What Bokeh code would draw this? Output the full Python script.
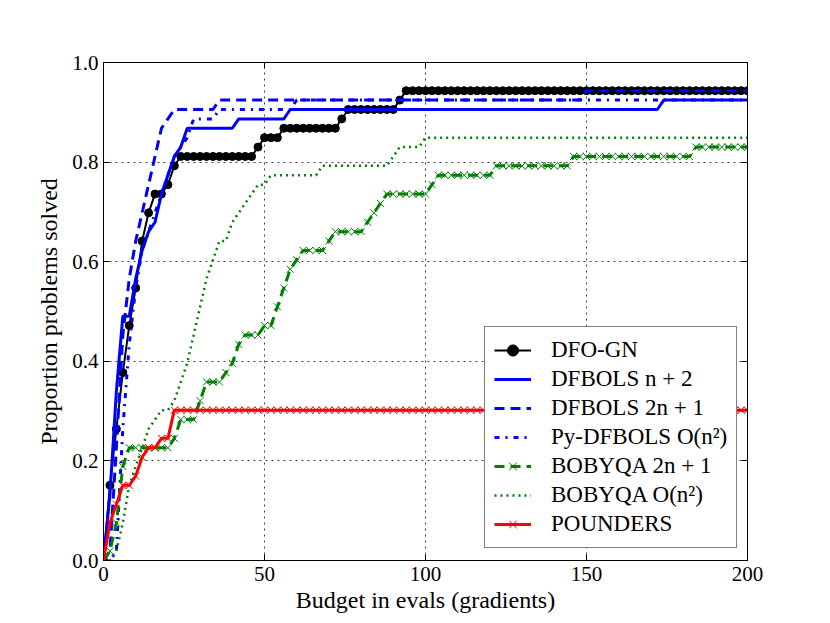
import numpy as np
from bokeh.plotting import figure
from bokeh.models import (LinearAxis, FixedTicker, Legend, LegendItem, Range1d,
                          NumeralTickFormatter, CustomJSTickFormatter)
from bokeh.embed import file_html
from bokeh.resources import INLINE

N_PROBLEMS = 53
budget = list(range(0, 201, 2))

# change points of each data profile: budget -> number of problems solved
dfogn_x = [0, 2, 4, 6, 8, 10, 12, 14, 16, 20, 22, 24, 48, 50, 56, 74, 76, 92, 94]
dfogn_n = [0, 8, 14, 20, 25, 29, 34, 37, 39, 40, 42, 43, 44, 45, 46, 47, 48, 49, 50]

np2_x = [0, 2, 4, 6, 10, 12, 14, 16, 18, 20, 22, 24, 26, 42, 58, 174]
np2_n = [0, 7, 18, 26, 30, 33, 35, 36, 39, 41, 43, 44, 46, 47, 48, 49]

tnp1_x = [0, 2, 4, 6, 8, 10, 12, 14, 16, 18, 20, 22, 36, 150]
tnp1_n = [0, 1, 12, 24, 30, 34, 37, 40, 43, 46, 47, 48, 49, 50]

py_x = [0, 4, 6, 8, 10, 12, 14, 16, 18, 20, 22, 24, 26, 28, 36, 60]
py_n = [0, 1, 14, 23, 29, 33, 35, 37, 39, 41, 43, 44, 45, 47, 48, 49]

bq2_x = [0, 2, 4, 6, 8, 22, 24, 30, 32, 38, 40, 42, 44, 50, 54, 56, 58, 60, 62,
         70, 72, 82, 84, 86, 88, 102, 104, 122, 146, 184]
bq2_n = [0, 1, 4, 10, 12, 13, 15, 17, 19, 20, 21, 23, 24, 25, 27, 29, 31, 32, 33,
         34, 35, 36, 37, 38, 39, 40, 41, 42, 43, 44]

bqo_x = [0, 4, 6, 8, 10, 12, 14, 16, 18, 22, 24, 26, 28, 30, 32, 34, 36, 40, 42,
         44, 46, 48, 52, 68, 90, 92, 100]
bqo_n = [0, 1, 4, 8, 10, 12, 14, 15, 16, 17, 19, 21, 24, 27, 30, 32, 34, 36, 37,
         38, 39, 40, 41, 42, 43, 44, 45]

pd_x = [0, 2, 4, 6, 10, 12, 14, 18, 22]
pd_n = [0, 4, 6, 8, 9, 11, 12, 13, 16]

labels = ["DFO-GN", "DFBOLS n + 2", "DFBOLS 2n + 1", "Py-DFBOLS O(n²)",
          "BOBYQA 2n + 1", "BOBYQA O(n²)", "POUNDERS"]


def profile(cx, cn):
    idx = np.searchsorted(np.array(cx), np.array(budget), side="right") - 1
    return [cn[i] / N_PROBLEMS for i in idx]


FONT = "Liberation Serif"
BLUE = "#0000ff"
GREEN = "#008000"
RED = "#ff0000"

p = figure(frame_width=644, frame_height=498,
           min_border_left=103, min_border_right=75,
           min_border_top=62, min_border_bottom=55,
           x_range=Range1d(0, 200), y_range=Range1d(0, 1),
           output_backend="svg", toolbar_location=None,
           background_fill_color="white", border_fill_color="white")

xt = [0, 50, 100, 150, 200]
yt = [0.0, 0.2, 0.4, 0.6, 0.8, 1.0]
p.xaxis.ticker = FixedTicker(ticks=xt)
p.yaxis.ticker = FixedTicker(ticks=yt)
p.yaxis.formatter = NumeralTickFormatter(format="0.0")
p.xgrid.ticker = FixedTicker(ticks=xt)
p.ygrid.ticker = FixedTicker(ticks=yt)
for g in (p.xgrid, p.ygrid):
    g.grid_line_color = "black"
    g.grid_line_dash = "2 4"
    g.grid_line_width = 1
    g.grid_line_alpha = 0.75

for ax in (p.xaxis, p.yaxis):
    ax.major_tick_in = 6
    ax.major_tick_out = 0
    ax.minor_tick_line_color = None
    ax.axis_line_color = "black"
    ax.major_tick_line_color = "black"
    ax.major_label_text_font = FONT
    ax.major_label_text_font_size = "21px"
    ax.major_label_text_color = "black"
    ax.axis_label_text_font = FONT
    ax.axis_label_text_font_size = "24px"
    ax.axis_label_text_font_style = "normal"
    ax.axis_label_text_color = "black"
p.xaxis.axis_label = "Budget in evals (gradients)"
p.yaxis.axis_label = "Proportion problems solved"
p.xaxis.major_label_standoff = 6
p.yaxis.major_label_standoff = 5
p.xaxis.axis_label_standoff = 3
p.yaxis.axis_label_standoff = 7

blank = CustomJSTickFormatter(code="return ''")
p.add_layout(LinearAxis(ticker=FixedTicker(ticks=yt), formatter=blank,
                        major_tick_in=6, major_tick_out=0,
                        minor_tick_line_color=None,
                        major_label_text_font_size="1px"), "right")
p.add_layout(LinearAxis(ticker=FixedTicker(ticks=xt), formatter=blank,
                        major_tick_in=6, major_tick_out=0,
                        minor_tick_line_color=None,
                        major_label_text_font_size="1px"), "above")
p.outline_line_color = "black"

items = []

y = profile(dfogn_x, dfogn_n)
l = p.line(budget, y, line_color="black", line_width=2)
s = p.scatter(budget, y, marker="circle", size=8, fill_color="black", line_color="black")
items.append(LegendItem(label=labels[0], renderers=[l, s]))

y = profile(np2_x, np2_n)
l = p.line(budget, y, line_color=BLUE, line_width=3)
items.append(LegendItem(label=labels[1], renderers=[l]))

y = profile(tnp1_x, tnp1_n)
l = p.line(budget, y, line_color=BLUE, line_width=3, line_dash="10 6")
items.append(LegendItem(label=labels[2], renderers=[l]))

y = profile(py_x, py_n)
l = p.line(budget, y, line_color=BLUE, line_width=3, line_dash="5 6 2 6")
items.append(LegendItem(label=labels[3], renderers=[l]))

y = profile(bq2_x, bq2_n)
l = p.line(budget, y, line_color=GREEN, line_width=3, line_dash="10 6")
s = p.scatter(budget, y, marker="x", size=10, line_color=GREEN, line_width=1)
items.append(LegendItem(label=labels[4], renderers=[l, s]))

y = profile(bqo_x, bqo_n)
l = p.line(budget, y, line_color=GREEN, line_width=2.5, line_dash="2 4")
items.append(LegendItem(label=labels[5], renderers=[l]))

y = profile(pd_x, pd_n)
l = p.line(budget, y, line_color=RED, line_width=3)
s = p.scatter(budget, y, marker="x", size=10, line_color=RED, line_width=1)
items.append(LegendItem(label=labels[6], renderers=[l, s]))

legend = Legend(items=items, location=(381, 12),
                label_text_font=FONT, label_text_font_size="23px",
                label_text_color="black",
                glyph_width=37, glyph_height=28, label_height=28,
                label_standoff=20, spacing=1, padding=9, margin=0,
                border_line_color="black", border_line_width=1.5,
                background_fill_color="white", background_fill_alpha=1)
p.add_layout(legend, "center")

open("out.html", "w").write(file_html(p, INLINE))
